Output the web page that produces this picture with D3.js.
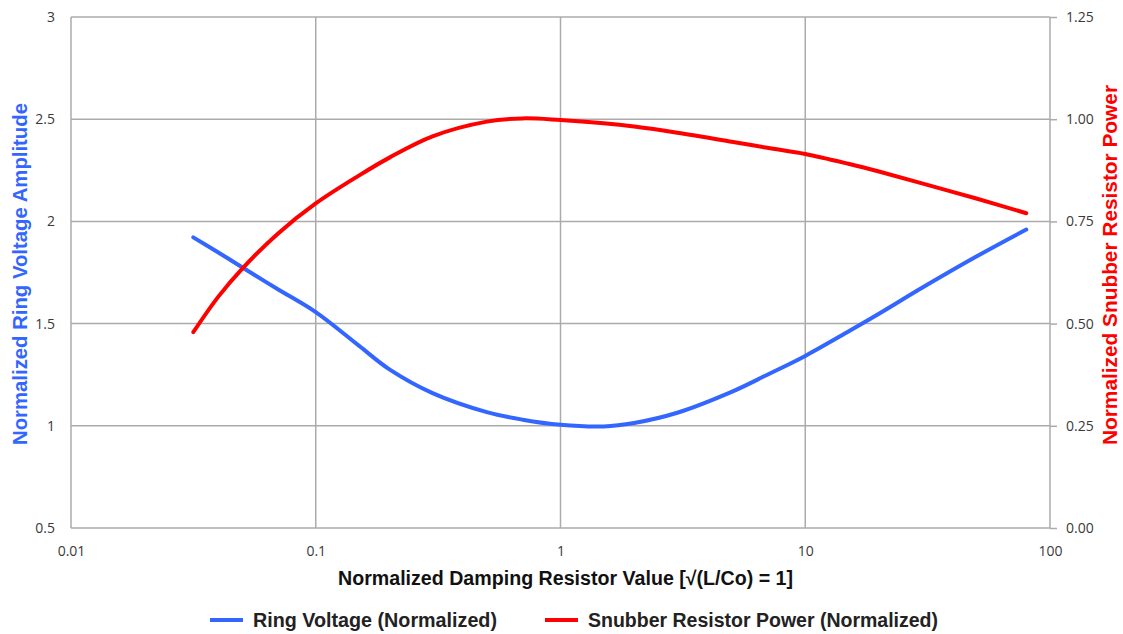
<!DOCTYPE html>
<html>
<head>
<meta charset="utf-8">
<script src="https://cdn.jsdelivr.net/npm/d3@7"></script>
<style>
  body { margin: 0; background: #fff; }
  svg { display: block; }
  .tick-label { font-family: "Open Sans", "DejaVu Sans", sans-serif; font-size: 14px; fill: #3a3a3a; }
  .title { font-family: "Liberation Sans", Arial, sans-serif; font-weight: bold; font-size: 19.5px; }
  .legend-text { font-family: "Liberation Sans", Arial, sans-serif; font-weight: bold; font-size: 19.5px; fill: #222; }
</style>
</head>
<body>
<div id="chart"></div>
<script>
// values
const xValues = [0.0316, 0.04, 0.05, 0.07, 0.1, 0.15, 0.2, 0.3, 0.5, 0.7, 1, 1.5, 2, 3, 5, 7, 10, 15, 20, 30, 50, 80];
const ringVoltage = [1.922, 1.848, 1.776, 1.668, 1.556, 1.392, 1.276, 1.160, 1.067, 1.030, 1.005, 0.997, 1.014, 1.064, 1.166, 1.250, 1.342, 1.461, 1.548, 1.675, 1.828, 1.960];
const snubberPower = [0.479, 0.566, 0.634, 0.720, 0.794, 0.862, 0.906, 0.958, 0.994, 1.002, 0.998, 0.990, 0.982, 0.967, 0.945, 0.930, 0.915, 0.891, 0.872, 0.843, 0.806, 0.770];
const xTicks = [0.01, 0.1, 1, 10, 100];
const leftTicks = [0.5, 1, 1.5, 2, 2.5, 3];
const rightTicks = [0, 0.25, 0.5, 0.75, 1, 1.25];

const BLUE = '#3366ff';
const RED = '#ff0000';
const GRID = '#ababab';

const outerWidth = 1123, outerHeight = 634;
const margin = { top: 17, right: 73, bottom: 106, left: 71 };
const width = outerWidth - margin.left - margin.right;
const height = outerHeight - margin.top - margin.bottom;

const svg = d3.select('#chart').append('svg')
    .attr('width', outerWidth)
    .attr('height', outerHeight);
const g = svg.append('g').attr('transform', `translate(${margin.left},${margin.top})`);

const x = d3.scaleLog().domain([0.01, 100]).range([0, width]);
const yL = d3.scaleLinear().domain([0.5, 3]).range([height, 0]);
const yR = d3.scaleLinear().domain([0, 1.25]).range([height, 0]);

// grid
g.append('g').selectAll('line').data(leftTicks).join('line')
    .attr('x1', 0).attr('x2', width)
    .attr('y1', (d) => yL(d)).attr('y2', (d) => yL(d))
    .attr('stroke', GRID).attr('stroke-width', 1.5);
g.append('g').selectAll('line').data(xTicks).join('line')
    .attr('x1', (d) => x(d)).attr('x2', (d) => x(d))
    .attr('y1', 0).attr('y2', height)
    .attr('stroke', GRID).attr('stroke-width', 1.5);

// axes
const xAxis = d3.axisBottom(x).tickValues(xTicks).tickSize(0).tickPadding(18)
    .tickFormat((d) => String(d));
g.append('g').attr('transform', `translate(0,${height})`).call(xAxis)
    .call((s) => s.select('.domain').remove())
    .selectAll('text').attr('class', 'tick-label').attr('fill', null);

const leftAxis = d3.axisLeft(yL).tickValues(leftTicks).tickSize(0).tickPadding(16)
    .tickFormat(d3.format('~g'));
g.append('g').call(leftAxis)
    .call((s) => s.select('.domain').remove())
    .selectAll('text').attr('class', 'tick-label').attr('fill', null);

const rightAxis = d3.axisRight(yR).tickValues(rightTicks).tickSize(7).tickPadding(9)
    .tickFormat(d3.format('.2f'));
const ra = g.append('g').attr('transform', `translate(${width},0)`).call(rightAxis);
ra.select('.domain').remove();
ra.selectAll('line').attr('stroke', GRID).attr('stroke-width', 1.5);
ra.selectAll('text').attr('class', 'tick-label').attr('fill', null);

// lines
const lineL = d3.line().x((d) => x(d[0])).y((d) => yL(d[1])).curve(d3.curveCatmullRom.alpha(0.5));
const lineR = d3.line().x((d) => x(d[0])).y((d) => yR(d[1])).curve(d3.curveCatmullRom.alpha(0.5));

g.append('path')
    .datum(xValues.map((v, i) => [v, ringVoltage[i]]))
    .attr('d', lineL)
    .attr('fill', 'none').attr('stroke', BLUE).attr('stroke-width', 4)
    .attr('stroke-linecap', 'round');
g.append('path')
    .datum(xValues.map((v, i) => [v, snubberPower[i]]))
    .attr('d', lineR)
    .attr('fill', 'none').attr('stroke', RED).attr('stroke-width', 4)
    .attr('stroke-linecap', 'round');

// titles
svg.append('text').attr('class', 'title')
    .attr('x', 338).attr('y', 585)
    .attr('textLength', 455).attr('lengthAdjust', 'spacingAndGlyphs')
    .attr('fill', '#111')
    .text('Normalized Damping Resistor Value [√(L/Co) = 1]');

svg.append('text').attr('class', 'title')
    .attr('transform', 'translate(27,445) rotate(-90)')
    .attr('textLength', 342).attr('lengthAdjust', 'spacingAndGlyphs')
    .attr('fill', BLUE)
    .text('Normalized Ring Voltage Amplitude');

svg.append('text').attr('class', 'title')
    .attr('transform', 'translate(1117,445) rotate(-90)')
    .attr('textLength', 360).attr('lengthAdjust', 'spacingAndGlyphs')
    .attr('fill', RED)
    .text('Normalized Snubber Resistor Power');

// legend
const legend = [
    { label: 'Ring Voltage (Normalized)', color: BLUE, x: 210, w: 244 },
    { label: 'Snubber Resistor Power (Normalized)', color: RED, x: 545, w: 350 },
];
const lg = svg.append('g').selectAll('g').data(legend).join('g')
    .attr('transform', (d) => `translate(${d.x},620)`);
lg.append('line').attr('x1', 0).attr('x2', 33).attr('y1', 0).attr('y2', 0)
    .attr('stroke', (d) => d.color).attr('stroke-width', 4);
lg.append('text').attr('class', 'legend-text')
    .attr('x', 43).attr('y', 7)
    .attr('textLength', (d) => d.w).attr('lengthAdjust', 'spacingAndGlyphs')
    .text((d) => d.label);
</script>
</body>
</html>
